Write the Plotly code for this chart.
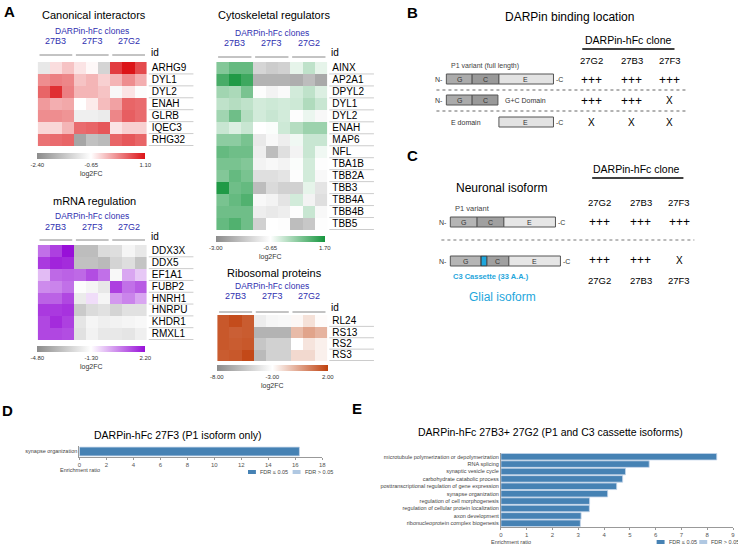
import plotly.graph_objects as go

W, H = 738, 545
FONT = "Liberation Sans, Arial, sans-serif"
BLUE_TXT = "#3030b0"
CYAN = "#1ea6dc"
GRAY_LOW = "#8c8c8c"

# ---------------- data ----------------
clones = ["27B3", "27F3", "27G2"]
columns = ["27B3 r1", "27B3 r2", "27B3 r3", "27F3 r1", "27F3 r2", "27F3 r3", "27G2 r1", "27G2 r2", "27G2 r3"]

canon_rows = ["ARHG9", "DYL1", "DYL2", "ENAH", "GLRB", "IQEC3", "RHG32"]
canon_z = [
    [-1.0, -0.4, -0.2, -0.45, -0.6, -1.3, 0.8, 1.1, 0.7],
    [0.2, 0.3, 0.25, -0.2, -0.1, -0.3, -0.1, 0.2, -0.05],
    [0.5, 0.9, 0.3, -0.1, -0.1, -0.2, -0.75, -0.45, -0.7],
    [0.1, -0.05, 0.0, -0.65, -0.5, -0.15, 0.05, 0.5, 0.45],
    [0.2, 0.2, 0.15, -0.9, -0.9, -0.95, 0.25, 0.55, 0.45],
    [-0.35, -0.35, -0.1, 0.45, 0.5, 0.6, -0.45, -0.3, -0.3],
    [0.4, 0.45, 0.5, -2.0, -1.6, -1.7, 0.5, 0.6, 0.5],
]
canon_scale = [-2.40, -0.65, 1.10]

cyto_rows = ["AINX", "AP2A1", "DPYL2", "DYL1", "DYL2", "ENAH", "MAP6", "NFL", "TBA1B", "TBB2A", "TBB3", "TBB4A", "TBB4B", "TBB5"]
cyto_z = [
    [0.6, 0.9, 0.9, -1.5, -1.7, -1.6, -0.4, 0.0, -0.4],
    [1.2, 1.6, 1.3, -2.2, -2.2, -2.2, -2.3, -2.0, -2.4],
    [0.3, 0.2, 0.7, -0.7, -0.9, -0.75, -0.2, 0.0, -0.3],
    [0.0, 0.1, 0.0, -0.2, -0.15, -0.2, -0.15, 0.15, -0.1],
    [0.3, 0.8, 0.1, -0.2, -0.1, -0.2, -0.7, -0.45, -0.8],
    [-0.1, -0.3, -0.1, -0.65, -0.6, -0.15, 0.1, 0.35, 0.35],
    [0.5, 0.5, 0.7, -1.1, -0.8, -1.0, -0.5, -0.1, -0.1],
    [0.9, 0.8, 0.8, -1.0, -2.0, -1.3, -0.9, -0.1, -0.5],
    [0.7, 0.7, 0.6, -0.9, -0.8, -0.9, -0.6, -0.2, -0.7],
    [0.6, 0.9, 0.7, -1.3, -1.3, -1.2, -0.7, -0.2, -0.8],
    [1.6, 0.8, 0.9, -2.0, -1.4, -1.6, -1.6, -0.4, -1.2],
    [0.7, 0.9, 1.1, -0.8, -0.9, -1.2, -0.2, -0.9, -1.3],
    [0.8, 0.8, 0.8, -1.0, -1.1, -1.0, -0.7, -0.1, -0.8],
    [0.9, 1.1, 0.8, -1.6, -0.65, -0.7, -2.0, -1.8, -0.7],
]
cyto_scale = [-3.00, -0.65, 1.70]

mrna_rows = ["DDX3X", "DDX5", "EF1A1", "FUBP2", "HNRH1", "HNRPU", "KHDR1", "RMXL1"]
mrna_z = [
    [0.8, 1.5, 2.2, -3.3, -3.3, -2.4, -2.3, -1.6, -2.0],
    [1.6, 1.9, 1.8, -3.2, -3.2, -3.4, -2.6, -2.3, -3.1],
    [-0.3, 0.9, 1.0, 0.9, 1.3, 0.8, -1.5, 0.0, -0.5],
    [0.4, 0.5, 0.8, -1.4, -1.6, -2.0, 1.5, 0.8, 1.1],
    [1.0, 1.0, 1.4, -1.9, -0.8, -1.6, 0.2, 0.5, 0.0],
    [1.6, 1.6, 1.7, -2.9, -2.4, -2.2, -2.6, -2.2, -2.2],
    [1.4, 1.8, 1.5, -2.1, -1.6, -1.8, -1.7, -1.6, -1.5],
    [1.4, 1.4, 1.3, -2.2, -1.7, -2.0, -2.0, -2.1, -1.8],
]
mrna_scale = [-4.80, -1.30, 2.20]

ribo_rows = ["RL24", "RS13", "RS2", "RS3"]
ribo_z = [
    [1.4, 1.7, 1.3, -3.8, -3.4, -3.3, -2.8, -2.2, -2.9],
    [1.4, 1.2, 1.3, -6.3, -6.3, -6.3, -1.2, -0.6, -1.0],
    [1.4, 1.3, 1.4, -5.5, -5.0, -5.0, -3.0, -2.3, -2.6],
    [1.3, 1.4, 1.8, -6.0, -5.0, -5.0, -2.0, -2.0, -2.6],
]
ribo_scale = [-8.00, -3.00, 2.00]

b_clones = ["27G2", "27B3", "27F3"]
b_binding = [["+++", "+++", "+++"], ["+++", "+++", "X"], ["X", "X", "X"]]
c_binding = [["+++", "+++", "+++"], ["+++", "+++", "X"]]

d_terms = ["synapse organization"]
d_ratio = [16.3]

e_terms = ["microtubule polymerization or depolymerization", "RNA splicing", "synaptic vesicle cycle",
           "carbohydrate catabolic process", "posttranscriptional regulation of gene expression",
           "synapse organization", "regulation of cell morphogenesis",
           "regulation of cellular protein localization", "axon development",
           "ribonucleoprotein complex biogenesis"]
e_ratio = [8.37, 5.75, 4.83, 4.72, 4.49, 4.14, 3.44, 3.43, 3.11, 3.08]


# ---------------- helpers ----------------
def fx(x):
    return x / W


def fy(y):
    return 1 - y / H


fig = go.Figure()
annotations = []
shapes = []
layout_axes = {}


def txt(x, y, s, size, color="black", xanchor="center", bold=False, xref="paper"):
    if bold:
        s = "<b>" + s + "</b>"
    annotations.append(dict(x=x if xref != "paper" else fx(x), y=fy(y), xref=xref, yref="paper",
                            text=s, showarrow=False, xanchor=xanchor, yanchor="middle",
                            font=dict(size=size, color=color, family=FONT)))


def line(x0, y0, x1, y1, color="black", width=1, dash="solid", xref="paper"):
    shapes.append(dict(type="line", xref=xref, yref="paper",
                       x0=x0 if xref != "paper" else fx(x0), x1=x1 if xref != "paper" else fx(x1),
                       y0=fy(y0), y1=fy(y1), line=dict(color=color, width=width, dash=dash)))


def rect(x0, y0, x1, y1, fill, lc="#555555", lw=1):
    shapes.append(dict(type="rect", xref="paper", yref="paper", x0=fx(x0), x1=fx(x1), y0=fy(y1), y1=fy(y0),
                       fillcolor=fill, line=dict(color=lc, width=lw)))


# ---------------- heatmaps ----------------
heat_panels = [
    dict(title="Canonical interactors", rows=canon_rows, z=canon_z, scale=canon_scale, color="#dc1418",
         box=(36, 146, 62, 146), ty=15, dy=31, cy=41, ly=55, idy=52, cb=(36, 144, 153)),
    dict(title="Cytoskeletal regulators", rows=cyto_rows, z=cyto_z, scale=cyto_scale, color="#16963e",
         box=(216, 328, 62, 230), ty=15, dy=33, cy=43, ly=57, idy=52, cb=(216, 325, 236)),
    dict(title="mRNA regulation", rows=mrna_rows, z=mrna_z, scale=mrna_scale, color="#9810d8",
         box=(36, 146, 245, 340), ty=201, dy=216, cy=227, ly=240, idy=236, cb=(36, 144, 346)),
    dict(title="Ribosomal proteins", rows=ribo_rows, z=ribo_z, scale=ribo_scale, color="#c0410e",
         box=(217, 328, 315, 361), ty=273, dy=286, cy=296, ly=312, idy=307, cb=(217, 328, 365)),
]

for i, p in enumerate(heat_panels, start=1):
    x0, x1, y0, y1 = p["box"]
    lo, mid, hi = p["scale"]
    cbx0, cbx1, cby = p["cb"]
    fig.add_trace(go.Heatmap(
        z=p["z"], x=columns, y=p["rows"], xaxis=f"x{i}", yaxis=f"y{i}",
        zmin=lo, zmax=hi,
        colorscale=[[0, GRAY_LOW], [0.5, "#ffffff"], [1, p["color"]]],
        colorbar=dict(orientation="h", x=fx((cbx0 + cbx1) / 2), xanchor="center", y=fy(cby), yanchor="top",
                      len=cbx1 - cbx0, lenmode="pixels", thickness=6, outlinewidth=0, xpad=0, ypad=0,
                      tickvals=[lo, mid, hi], ticktext=[f"{v:.2f}" for v in (lo, mid, hi)], ticks="",
                      tickfont=dict(size=6, color="#333333", family=FONT),
                      title=dict(text="log2FC", side="bottom", font=dict(size=7, color="#333333", family=FONT))),
        hoverongaps=False))
    layout_axes[f"xaxis{i}"] = dict(domain=[fx(x0), fx(x1)], anchor=f"y{i}", showticklabels=False,
                                    showgrid=False, zeroline=False, ticks="", fixedrange=True)
    layout_axes[f"yaxis{i}"] = dict(domain=[fy(y1), fy(y0)], anchor=f"x{i}", side="right", autorange="reversed",
                                    showgrid=False, zeroline=False, ticks="", ticklabelstandoff=4,
                                    tickmode="array", tickvals=p["rows"], ticktext=p["rows"],
                                    tickfont=dict(size=10, color="black", family=FONT))
    cx = (x0 + x1) / 2 + 2
    txt(cx, p["ty"], p["title"], 11)
    txt(4, p["dy"], "DARPin-hFc clones", 8.5, BLUE_TXT, xref=f"x{i}")
    for g, cl in enumerate(clones):
        txt(3 * g + 1, p["cy"], cl, 9, BLUE_TXT, xref=f"x{i}")
        line(3 * g - 0.35, p["ly"], 3 * g + 2.35, p["ly"], "#888888", 1, xref=f"x{i}")
    txt(x1 + 2, p["idy"], "id", 10, xanchor="left")
    for r in range(len(p["rows"])):
        shapes.append(dict(type="line", xref="paper", yref=f"y{i}", x0=fx(x1 + 2), x1=fx(x1 + 47),
                           y0=r + 0.5, y1=r + 0.5, line=dict(color="#cccccc", width=1)))

# ---------------- panel letters ----------------
txt(8, 11, "A", 15, bold=True)
txt(414, 13, "B", 15, bold=True)
txt(414, 155, "C", 15, bold=True)
txt(6, 410, "D", 15, bold=True)
txt(358, 408, "E", 15, bold=True)

# ---------------- panel B ----------------
BG, BC, BE = "#ababab", "#999999", "#e3e3e3"
txt(572, 17, "DARPin binding location", 12)
txt(632, 40, "DARPin-hFc clone", 10.5)
line(585, 49, 678, 49, "black", 1.5)
b_cols_x = [594, 635, 673]
for x, c in zip(b_cols_x, b_clones):
    txt(x, 60, c, 9.5)
txt(451, 66, "P1 variant (full length)", 7, "#444444", xanchor="left")
# row 1
rect(448, 74, 474, 84, BG); rect(474, 74, 501, 84, BC); rect(501, 74, 556, 84, BE)
txt(461, 79, "G", 7, "#333333"); txt(487, 79, "C", 7, "#333333"); txt(528, 79, "E", 7, "#333333")
txt(447, 79, "N-", 7, "#333333", xanchor="right"); txt(557, 79, "-C", 7, "#333333", xanchor="left")
line(438, 90, 692, 90, "#666666", 1, "dot")
# row 2
rect(448, 95, 474, 105, BG); rect(474, 95, 500, 105, BC)
txt(461, 100, "G", 7, "#333333"); txt(487, 100, "C", 7, "#333333")
txt(447, 100, "N-", 7, "#333333", xanchor="right")
txt(505, 101, "G+C Domain", 7, "#333333", xanchor="left")
line(438, 111, 692, 111, "#666666", 1, "dot")
# row 3
txt(451, 122, "E domain", 7, "#333333", xanchor="left")
rect(501, 117, 556, 127, BE)
txt(528, 122, "E", 7, "#333333"); txt(557, 122, "-C", 7, "#333333", xanchor="left")
for ry, row in zip([80, 101, 122], b_binding):
    for x, v in zip(b_cols_x, row):
        txt(x, ry, v, 12 if v == "+++" else 10)

# ---------------- panel C ----------------
txt(640, 169, "DARPin-hFc clone", 10.5)
line(595, 178, 687, 178, "black", 1.5)
txt(504, 188, "Neuronal isoform", 12)
txt(455, 208, "P1 variant", 7.5, "#444444", xanchor="left")
c_cols_x = [602, 644, 683]
for x, c in zip(c_cols_x, b_clones):
    txt(x, 202, c, 9.5)
    txt(x, 280, c, 9.5)
rect(452, 217, 479, 227, "#b5b5b5"); rect(479, 217, 506, 227, "#a0a0a0"); rect(506, 217, 558, 227, "#e6e6e6")
txt(465, 222, "G", 7, "#333333"); txt(492, 222, "C", 7, "#333333"); txt(532, 222, "E", 7, "#333333")
txt(451, 222, "N-", 7, "#333333", xanchor="right"); txt(559, 222, "-C", 7, "#333333", xanchor="left")
line(443, 240, 698, 240, "#bbbbbb", 2, "dot")
rect(452, 256, 483, 266, "#b5b5b5"); rect(483, 256, 489, 266, CYAN, "#333333")
rect(489, 256, 511, 266, "#a0a0a0"); rect(511, 256, 563, 266, "#e6e6e6")
txt(467, 261, "G", 7, "#333333"); txt(500, 261, "C", 7, "#333333"); txt(537, 261, "E", 7, "#333333")
txt(451, 261, "N-", 7, "#333333", xanchor="right"); txt(564, 261, "-C", 7, "#333333", xanchor="left")
for ry, row in zip([222, 260], c_binding):
    for x, v in zip(c_cols_x, row):
        txt(x, ry, v, 12 if v == "+++" else 10)
txt(493, 276, "C3 Cassette (33 A.A.)", 7.5, CYAN, bold=True)
txt(505, 297, "Glial isoform", 12, CYAN)

# ---------------- panel D ----------------
BAR = "#4682b4"
fig.add_trace(go.Bar(x=d_ratio, y=d_terms, orientation="h", xaxis="x5", yaxis="y5",
                     marker=dict(color=BAR, line=dict(color="#c5d6ea", width=0.8)), width=0.8))
layout_axes["xaxis5"] = dict(domain=[fx(78), fx(323)], anchor="y5", range=[0, 18], dtick=2, showgrid=False,
                             zeroline=False, showline=True, linecolor="#999999", linewidth=1, ticks="outside",
                             ticklen=2, tickcolor="#999999", tickfont=dict(size=6, color="#555555", family=FONT))
layout_axes["yaxis5"] = dict(domain=[fy(457), fy(446)], anchor="x5", showgrid=False, zeroline=False,
                             showline=True, linecolor="#999999", linewidth=1, ticks="",
                             tickfont=dict(size=5.5, color="#444444", family=FONT))
txt(177, 435, "DARPin-hFc 27F3 (P1 isoform only)", 10.5)
txt(79, 470, "Enrichment ratio", 5.5, "#444444")
rect(248, 470, 256, 474, BAR, BAR, 0)
txt(258, 472, "FDR ≤ 0.05", 5.5, "#444444", xanchor="left")
rect(293, 470, 301, 474, "#b0c8e2", "#b0c8e2", 0)
txt(303, 472, "FDR > 0.05", 5.5, "#444444", xanchor="left")

# ---------------- panel E ----------------
fig.add_trace(go.Bar(x=e_ratio, y=e_terms, orientation="h", xaxis="x6", yaxis="y6",
                     marker=dict(color=BAR, line=dict(color="#c5d6ea", width=0.8)), width=0.88))
layout_axes["xaxis6"] = dict(domain=[fx(503), fx(737)], anchor="y6", range=[0, 9], dtick=1, showgrid=False,
                             zeroline=False, showline=True, linecolor="#999999", linewidth=1, ticks="outside",
                             ticklen=2, tickcolor="#999999", tickfont=dict(size=6, color="#555555", family=FONT))
layout_axes["yaxis6"] = dict(domain=[fy(527), fy(453)], anchor="x6", showgrid=False, zeroline=False,
                             showline=True, linecolor="#999999", linewidth=1, ticks="", autorange="reversed",
                             categoryorder="array", categoryarray=e_terms,
                             tickfont=dict(size=5.5, color="#444444", family=FONT))
txt(553, 432, "DARPin-hFc 27B3+ 27G2 (P1 and C3 cassette isoforms)", 10.5)
txt(513, 541.5, "Enrichment ratio", 5.5, "#444444")
rect(660, 540, 668, 544, BAR, BAR, 0)
txt(670, 542, "FDR ≤ 0.05", 5.5, "#444444", xanchor="left")
rect(703, 540, 711, 544, "#b0c8e2", "#b0c8e2", 0)
txt(713, 542, "FDR > 0.05", 5.5, "#444444", xanchor="left")

fig.update_layout(width=W, height=H, margin=dict(l=0, r=0, t=0, b=0), paper_bgcolor="white",
                  plot_bgcolor="white", showlegend=False, font=dict(family=FONT),
                  annotations=annotations, shapes=shapes, **layout_axes)
fig.write_html("out.html", config={"displayModeBar": False},
               post_script="document.body.style.margin='0';document.body.style.padding='0';"
                           "document.body.style.overflow='hidden';")
